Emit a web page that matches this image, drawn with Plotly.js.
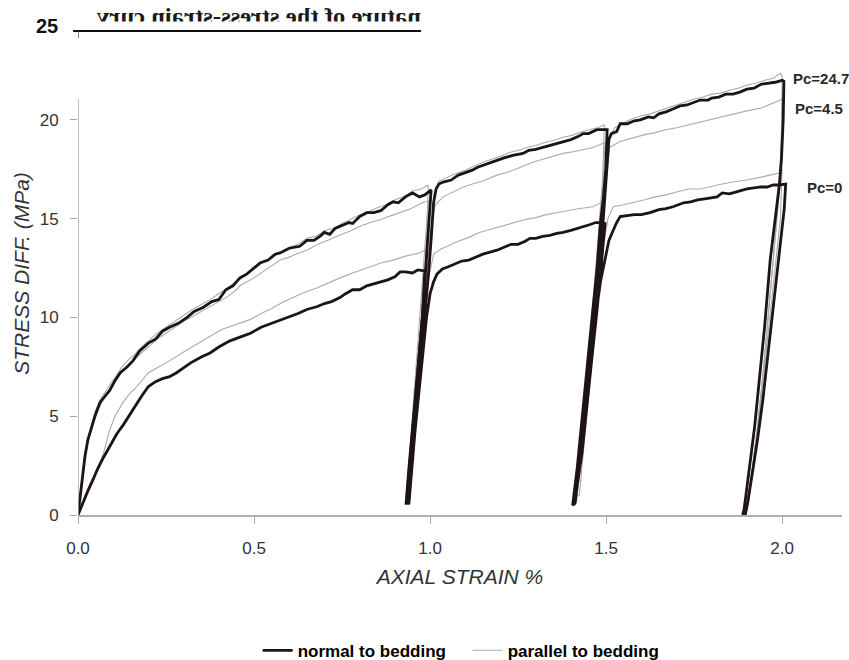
<!DOCTYPE html>
<html>
<head>
<meta charset="utf-8">
<script src="https://cdn.plot.ly/plotly-3.0.1.min.js"></script>
<style>
  html, body { margin: 0; padding: 0; background: #fff; }
  #wrap { position: relative; width: 849px; height: 660px; }
  #chart { position: absolute; left: 0; top: 0; width: 849px; height: 660px; }
  #scan { position: absolute; left: 0; top: 0; pointer-events: none; }
</style>
</head>
<body>
<div id="wrap">
  <div id="chart"></div>
  <svg id="scan" width="849" height="45">
    <g transform="translate(421,0) scale(-1,1)">
      <text x="0" y="24" textLength="324" lengthAdjust="spacingAndGlyphs"
            font-family="Liberation Serif" font-weight="bold" font-size="24" fill="#1a1a1a">nature of the stress-strain curv</text>
    </g>
    <rect x="90" y="21.5" width="340" height="8" fill="#fff"></rect>
    <line x1="73" y1="31" x2="421" y2="31" stroke="#111" stroke-width="2"></line>
  </svg>
</div>
<script>
// ---------------- DATA ----------------
const seriesNames = ["normal to bedding", "parallel to bedding"];
const pressureLabels = ["Pc=24.7", "Pc=4.5", "Pc=0"];
const xTickVals = [0, 0.5, 1.0, 1.5, 2.0];
const xTickText = ["0.0", "0.5", "1.0", "1.5", "2.0"];
const yTickVals = [0, 5, 10, 15, 20];
const yTopLabel = "25";
const xTitle = "AXIAL STRAIN %";
const yTitle = "STRESS DIFF. (MPa)";

// normal to bedding, Pc=24.7 (upper black curve)
const normHighX = [0,0.006,0.012,0.02,0.028,0.039,0.05,0.0625,0.075,0.09,0.105,0.12,0.14,0.156,0.175,0.2,0.22,0.24,0.26,0.285,0.31,0.33,0.355,0.38,0.40,0.42,0.44,0.46,0.48,0.50,0.517,0.54,0.56,0.574,0.60,0.63,0.65,0.67,0.687,0.70,0.715,0.73,0.744,0.77,0.78,0.80,0.82,0.84,0.86,0.88,0.895,0.91,0.93,0.95,0.97,0.985,1.003,
  0.995,0.988,0.978,0.966,0.957,0.949,0.94,0.932,
  0.938,0.946,0.955,0.964,0.973,0.985,0.996,1.004,1.01,1.017,1.025,1.037,1.06,1.08,1.094,1.12,1.135,1.15,1.17,1.19,1.21,1.235,1.264,1.28,1.30,1.32,1.34,1.36,1.378,1.40,1.42,1.435,1.45,1.474,1.49,1.503,
  1.499,1.492,1.484,1.474,1.46,1.446,1.432,1.418,1.405,
  1.41,1.42,1.434,1.45,1.465,1.478,1.49,1.498,1.504,1.508,1.515,1.53,1.54,1.56,1.58,1.597,1.62,1.635,1.65,1.67,1.69,1.71,1.73,1.75,1.767,1.79,1.80,1.82,1.84,1.86,1.88,1.90,1.92,1.94,1.96,1.98,2.0,2.005,
  2.003,1.998,1.992,1.98,1.966,1.95,1.935,1.922,1.91,1.90,1.892,1.888];
const normHighY = [0,1.0,2.0,3.0,3.8,4.5,5.1,5.7,6.0,6.3,6.8,7.2,7.5,7.8,8.3,8.7,8.9,9.3,9.5,9.7,10.0,10.3,10.5,10.8,10.9,11.4,11.6,12.0,12.2,12.5,12.75,12.9,13.2,13.26,13.5,13.6,13.9,13.9,14.1,14.3,14.2,14.5,14.6,14.8,14.75,15.1,15.3,15.3,15.4,15.7,15.85,15.8,16.1,16.3,16.1,16.2,16.45,
  14.5,12.3,10.0,7.5,5.8,4.15,2.4,0.6,
  0.6,2.4,4.2,5.8,7.5,10.0,12.3,14.2,15.8,16.5,16.75,16.85,16.95,17.2,17.3,17.45,17.6,17.7,17.85,17.95,18.07,18.2,18.3,18.45,18.5,18.6,18.7,18.8,18.9,19.0,19.15,19.3,19.3,19.5,19.5,19.5,
  17.5,16.0,14.8,12.4,10.0,7.5,5.0,2.4,0.5,
  0.6,2.5,5.0,7.5,10.0,12.4,14.5,16.5,18.2,19.0,19.3,19.4,19.8,19.8,19.95,20.0,20.15,20.1,20.3,20.4,20.55,20.7,20.75,20.9,21.0,21.0,21.1,21.15,21.3,21.3,21.4,21.55,21.6,21.8,21.85,21.9,22.0,21.95,
  20.0,18.0,16.7,14.8,12.9,9.5,6.8,4.5,2.8,1.3,0.3,0];

// normal to bedding, Pc=0 (lower black curve)
const normLowX = [0,0.01,0.02,0.03,0.043,0.055,0.072,0.09,0.11,0.13,0.148,0.165,0.18,0.2,0.22,0.24,0.26,0.28,0.30,0.32,0.35,0.375,0.40,0.43,0.46,0.49,0.52,0.55,0.58,0.60,0.625,0.65,0.68,0.70,0.72,0.744,0.76,0.78,0.80,0.82,0.84,0.86,0.88,0.90,0.915,0.93,0.95,0.965,0.985,
  0.978,0.966,0.957,0.949,0.94,0.933,
  0.94,0.948,0.957,0.966,0.976,0.99,1.0,1.01,1.02,1.035,1.05,1.07,1.09,1.11,1.13,1.15,1.17,1.19,1.21,1.23,1.25,1.27,1.284,1.30,1.32,1.34,1.36,1.378,1.40,1.42,1.44,1.455,1.47,1.485,1.497,
  1.488,1.475,1.46,1.446,1.432,1.418,1.406,
  1.412,1.425,1.44,1.456,1.47,1.484,1.497,1.508,1.52,1.53,1.54,1.56,1.58,1.60,1.625,1.65,1.67,1.69,1.72,1.74,1.76,1.78,1.80,1.815,1.83,1.85,1.87,1.88,1.90,1.92,1.94,1.957,1.975,1.99,2.01,
  2.006,1.99,1.976,1.96,1.945,1.93,1.915,1.902,1.895];
const normLowY = [0,0.45,0.9,1.3,1.8,2.3,2.9,3.5,4.1,4.6,5.1,5.6,6.0,6.5,6.75,6.9,7.0,7.2,7.45,7.7,8.0,8.2,8.5,8.8,9.0,9.2,9.5,9.7,9.9,10.0,10.2,10.4,10.55,10.7,10.8,11.0,11.2,11.4,11.4,11.6,11.7,11.8,11.9,12.05,12.3,12.3,12.25,12.4,12.35,
  10.0,7.5,5.8,4.15,2.4,0.6,
  0.6,2.4,4.2,5.8,7.5,10.0,11.2,11.8,12.2,12.45,12.55,12.7,12.85,12.9,13.05,13.2,13.3,13.4,13.55,13.7,13.7,13.85,14.0,14.0,14.1,14.15,14.25,14.3,14.4,14.5,14.6,14.7,14.8,14.8,14.75,
  13.0,10.5,8.0,5.5,3.2,1.5,0.5,
  0.6,2.5,5.0,7.5,10.0,11.8,13.0,13.9,14.4,14.8,15.1,15.15,15.2,15.2,15.3,15.45,15.5,15.6,15.8,15.85,15.95,16.0,16.05,16.1,16.3,16.25,16.35,16.4,16.5,16.55,16.6,16.6,16.7,16.7,16.75,
  15.5,13.0,10.5,8.0,5.8,3.8,2.0,0.6,0];

// parallel to bedding, Pc=24.7
const parHighX = [0,0.006,0.013,0.02,0.03,0.04,0.05,0.065,0.08,0.095,0.11,0.125,0.14,0.16,0.18,0.20,0.225,0.25,0.275,0.30,0.325,0.35,0.375,0.40,0.425,0.45,0.475,0.50,0.525,0.55,0.575,0.60,0.625,0.65,0.675,0.70,0.725,0.75,0.775,0.80,0.825,0.85,0.875,0.90,0.925,0.95,0.975,0.995,
  0.99,0.98,0.968,0.955,0.943,0.935,
  0.942,0.952,0.965,0.978,0.992,1.003,1.012,1.025,1.05,1.075,1.10,1.125,1.15,1.175,1.20,1.225,1.25,1.275,1.30,1.325,1.35,1.375,1.40,1.425,1.45,1.475,1.495,
  1.49,1.48,1.466,1.452,1.438,1.424,1.41,
  1.416,1.43,1.445,1.46,1.475,1.49,1.5,1.51,1.525,1.55,1.575,1.60,1.625,1.65,1.675,1.70,1.725,1.75,1.775,1.80,1.825,1.85,1.875,1.90,1.925,1.95,1.975,1.995,2.0,
  1.998,1.99,1.975,1.96,1.945,1.93,1.915,1.9,1.893];
const parHighY = [0,1.1,2.2,3.1,4.0,4.7,5.3,5.9,6.3,6.7,7.1,7.5,7.8,8.1,8.5,8.8,9.2,9.5,9.8,10.1,10.4,10.65,10.9,11.2,11.5,11.8,12.1,12.55,12.8,13.0,13.3,13.55,13.7,14.0,14.1,14.4,14.5,14.75,14.95,15.2,15.35,15.55,15.7,15.95,16.1,16.4,16.5,16.7,
  14.0,11.0,8.0,5.0,2.5,0.8,
  0.8,3.0,6.0,9.0,12.0,14.5,16.3,16.9,17.1,17.3,17.45,17.65,17.85,18.0,18.15,18.35,18.45,18.6,18.7,18.85,18.95,19.1,19.2,19.35,19.5,19.6,19.75,
  17.0,14.5,11.5,8.5,5.5,3.0,0.9,
  0.9,3.2,6.0,9.0,12.0,15.0,17.5,19.2,19.6,19.85,20.05,20.2,20.3,20.45,20.6,20.75,20.9,21.05,21.15,21.3,21.35,21.5,21.6,21.75,21.85,22.0,22.1,22.35,22.2,
  19.0,16.0,13.0,10.0,7.0,4.5,2.3,0.6,0];

// parallel to bedding, Pc=4.5
const parMidX = [0,0.006,0.013,0.02,0.03,0.04,0.05,0.065,0.08,0.095,0.11,0.125,0.14,0.16,0.18,0.20,0.225,0.25,0.275,0.30,0.325,0.35,0.375,0.40,0.425,0.45,0.46,0.50,0.525,0.55,0.574,0.60,0.625,0.65,0.687,0.71,0.74,0.77,0.80,0.83,0.86,0.89,0.915,0.945,0.977,0.995,
  0.985,0.973,0.96,0.948,0.938,0.932,
  0.94,0.95,0.962,0.975,0.99,1.002,1.015,1.037,1.065,1.094,1.12,1.15,1.19,1.22,1.25,1.284,1.31,1.34,1.378,1.41,1.44,1.463,1.49,1.497,
  1.49,1.478,1.464,1.45,1.436,1.422,1.41,
  1.416,1.43,1.446,1.462,1.478,1.492,1.502,1.51,1.54,1.577,1.61,1.64,1.67,1.70,1.735,1.767,1.80,1.83,1.86,1.90,1.94,1.97,1.995,2.0,
  1.997,1.99,1.975,1.96,1.945,1.93,1.915,1.9,1.892];
const parMidY = [0,1.0,2.0,2.9,3.8,4.5,5.0,5.6,6.1,6.5,6.9,7.25,7.55,7.9,8.2,8.5,8.9,9.2,9.5,9.8,10.05,10.3,10.55,10.8,11.05,11.4,11.6,12.0,12.3,12.6,12.9,13.05,13.25,13.4,13.75,13.9,14.15,14.35,14.6,14.8,14.95,15.15,15.3,15.5,15.8,15.9,
  13.5,10.5,7.5,4.5,2.0,0.7,
  0.7,3.0,6.0,9.0,12.0,14.5,15.7,16.1,16.35,16.6,16.75,16.9,17.2,17.35,17.55,17.8,17.95,18.1,18.3,18.4,18.5,18.6,18.8,18.85,
  16.5,13.5,10.5,7.5,4.5,2.0,0.7,
  0.7,3.0,6.0,9.0,12.0,15.0,17.2,18.6,18.9,19.1,19.25,19.35,19.5,19.6,19.75,19.9,20.05,20.15,20.3,20.45,20.6,20.8,21.0,21.1,
  18.5,16.0,13.0,10.0,7.0,4.5,2.3,0.6,0];

// parallel to bedding, Pc=0
const parLowX = [0,0.01,0.02,0.035,0.05,0.06,0.072,0.09,0.105,0.128,0.145,0.167,0.185,0.2,0.23,0.26,0.30,0.34,0.375,0.41,0.45,0.49,0.52,0.55,0.58,0.61,0.64,0.68,0.71,0.744,0.78,0.82,0.86,0.895,0.93,0.97,0.99,
  0.982,0.97,0.957,0.945,0.935,
  0.942,0.955,0.968,0.982,0.996,1.01,1.03,1.048,1.08,1.11,1.14,1.17,1.20,1.236,1.27,1.30,1.33,1.36,1.39,1.42,1.463,1.485,1.495,
  1.488,1.476,1.462,1.448,1.434,1.418,
  1.424,1.438,1.452,1.466,1.48,1.494,1.505,1.52,1.55,1.577,1.61,1.64,1.67,1.70,1.735,1.767,1.80,1.83,1.86,1.90,1.94,1.97,1.99,2.0,
  1.995,1.98,1.966,1.95,1.935,1.92,1.905,1.897];
const parLowY = [0,0.5,1.0,1.6,2.2,2.6,3.1,4.3,5.0,5.7,6.1,6.5,6.9,7.2,7.5,7.8,8.25,8.7,9.05,9.4,9.65,9.9,10.2,10.45,10.75,11.0,11.25,11.5,11.75,12.0,12.25,12.5,12.75,12.9,13.1,13.26,13.45,
  11.0,8.5,6.0,3.5,1.2,
  1.2,4.0,6.8,9.5,12.0,13.2,13.45,13.6,13.85,14.05,14.3,14.45,14.6,14.8,14.95,15.05,15.2,15.3,15.4,15.5,15.6,15.8,15.7,
  13.5,11.0,8.5,6.0,3.5,1.0,
  1.0,3.8,6.5,9.0,11.5,13.8,15.0,15.6,15.7,15.8,15.95,16.1,16.2,16.35,16.5,16.5,16.65,16.75,16.85,16.95,17.1,17.2,17.3,17.5,
  15.0,12.5,10.0,7.5,5.0,2.8,0.8,0];

// ---------------- STYLE ----------------
const BLACK = "#1c1418";
const GRAY = "#ababab";
const FONT = "Liberation Sans, Arial, sans-serif";

function grayTrace(x, y, show) {
  return { x: x, y: y, type: "scatter", mode: "lines", name: seriesNames[1],
    legendgroup: "par", showlegend: show, legendrank: 2,
    line: { color: GRAY, width: 1.1 }, hoverinfo: "skip" };
}
function blackTrace(x, y, show) {
  return { x: x, y: y, type: "scatter", mode: "lines", name: seriesNames[0],
    legendgroup: "norm", showlegend: show, legendrank: 1,
    line: { color: BLACK, width: 2.8 }, hoverinfo: "skip" };
}

const traces = [
  grayTrace(parHighX, parHighY, true),
  grayTrace(parMidX, parMidY, false),
  grayTrace(parLowX, parLowY, false),
  blackTrace(normHighX, normHighY, true),
  blackTrace(normLowX, normLowY, false)
];

const labelPos = [[2.025, 22.1], [2.032, 20.55], [2.066, 16.55]];
const annotations = pressureLabels.map((t, i) => ({
  x: labelPos[i][0], y: labelPos[i][1], xref: "x", yref: "y",
  text: t, showarrow: false, xanchor: "left", yanchor: "middle",
  font: { family: FONT, size: 15, color: "#2a2a2a", weight: "bold" }
}));
annotations.push({
  x: -0.023, y: 25, xref: "paper", yref: "y", yshift: -5, text: yTopLabel, showarrow: false,
  xanchor: "right", yanchor: "middle",
  font: { family: FONT, size: 20, color: "#111", weight: "bold" }
});
// y-axis title placed as an annotation for exact position
annotations.push({
  x: -0.0735, y: 0.49, xref: "paper", yref: "paper", text: yTitle, showarrow: false,
  textangle: -90, xanchor: "center", yanchor: "middle",
  font: { family: FONT, size: 21, color: "#333", style: "italic" }
});

const layout = {
  width: 849, height: 660,
  margin: { l: 78, r: 7, t: 21, b: 145, autoexpand: false },
  paper_bgcolor: "#fff", plot_bgcolor: "#fff",
  showlegend: true,
  legend: {
    orientation: "h", x: 0.51, xanchor: "center",
    yref: "container", y: 0.014, yanchor: "middle",
    entrywidth: 165, entrywidthmode: "pixels",
    font: { family: FONT, size: 17, color: "#000", weight: "bold" },
    tracegroupgap: 0, bgcolor: "rgba(0,0,0,0)"
  },
  xaxis: {
    range: [0, 2.17], showgrid: false, zeroline: false, automargin: false,
    showline: true, linecolor: "#b0b0b0", linewidth: 2,
    ticks: "outside", ticklen: 7, tickcolor: "#a8a8a8", tickwidth: 1,
    tickvals: xTickVals, ticktext: xTickText, ticklabelstandoff: 10,
    tickfont: { family: FONT, size: 17, color: "#333" },
    title: { text: xTitle, standoff: 12,
      font: { family: FONT, size: 21, color: "#333", style: "italic" } }
  },
  yaxis: {
    range: [0, 25], showgrid: false, zeroline: false, automargin: false,
    showline: false,
    ticks: "outside", ticklen: 7, tickcolor: "#a8a8a8", tickwidth: 1,
    tickvals: yTickVals, ticklabelstandoff: 8,
    tickfont: { family: FONT, size: 17, color: "#333" }
  },
  shapes: [
    { type: "line", xref: "x", yref: "y", x0: 0, x1: 0, y0: 0, y1: 21.05,
      line: { color: "#a8a8a8", width: 1.5 } },
    { type: "line", xref: "x", yref: "y", x0: 0, x1: 0, y0: 24.14, y1: 24.5,
      line: { color: "#555", width: 1.5 } }
  ],
  annotations: annotations
};

Plotly.newPlot("chart", traces, layout, { displayModeBar: false, staticPlot: true });
</script>
</body>
</html>
